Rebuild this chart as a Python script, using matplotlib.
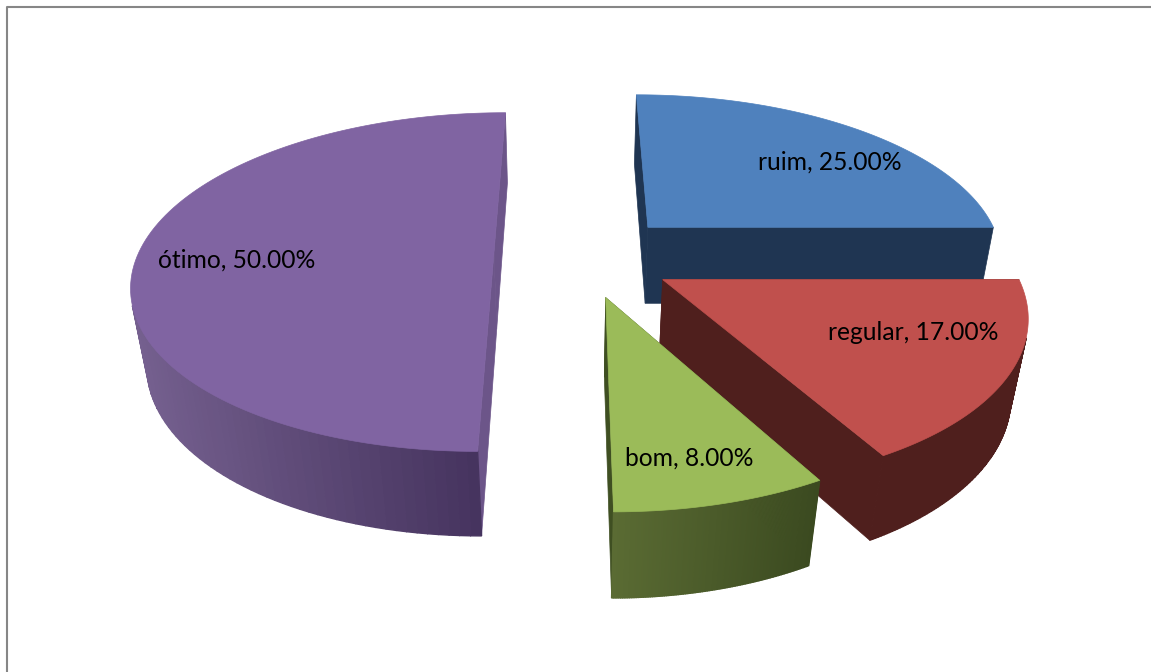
import numpy as np
import matplotlib
matplotlib.use("Agg")
import matplotlib.pyplot as plt

# dados do grafico
categories = ["ruim", "regular", "bom", "ótimo"]
values = [25.0, 17.0, 8.0, 50.0]
top_colors = ["#4F81BD", "#C0504D", "#9BBB59", "#8064A2"]
wall_light = ["#1F3552", "#4F1F1D", "#5A6B33", "#75608F"]
wall_dark = ["#1F3552", "#4F1F1D", "#3B4A20", "#46345F"]
face_colors = ["#1F3552", "#4F1F1D", "#3F4F22", "#6C5589"]

# deslocamento e raio de cada fatia no plano
offsets = [(80, 55), (90, -58), (34, -94), (-76, 0)]
radii = [355, 346, 345, 355]
label_pos = [(830, 162), (913, 333), (689, 458), (237, 260)]

# projecao em perspectiva
VX, VY = 570, 252
K = 0.0005
A = 0.462
DEPTH = 80
M = 0.037


def project(x, y, low):
    w = 1 + K * y + (M if low else 0)
    return VX + x / w, VY - (A * y - (DEPTH if low else 0)) / w


def area(pts):
    p = np.array(pts)
    return 0.5 * np.sum(p[:, 0] * np.roll(p[:, 1], -1) - np.roll(p[:, 0], -1) * p[:, 1])


fig = plt.figure(figsize=(11.51, 6.72), dpi=100)
ax = fig.add_axes([0, 0, 1, 1])
ax.set_xlim(0, 1151)
ax.set_ylim(672, 0)
ax.axis("off")
ax.plot([7, 7, 1151], [672, 7, 7], color="#868686", lw=1.5)

starts = np.cumsum([0] + values[:-1]) * 3.6

for i in range(len(values)):
    a0 = starts[i]
    a1 = a0 + values[i] * 3.6
    ox, oy = offsets[i]
    t = np.radians(np.linspace(a0, a1, 121))
    rim_x = ox + radii[i] * np.sin(t)
    rim_y = oy + radii[i] * np.cos(t)

    # faces retas
    for tx, ty in [(rim_x[0], rim_y[0]), (rim_x[-1], rim_y[-1])]:
        quad = [project(ox, oy, False), project(tx, ty, False),
                project(tx, ty, True), project(ox, oy, True)]
        ax.fill(*zip(*quad), color=face_colors[i], lw=0.5, zorder=i + 1)

    # parede externa com gradiente, so a parte da frente
    c0 = np.array(matplotlib.colors.to_rgb(wall_light[i]))
    c1 = np.array(matplotlib.colors.to_rgb(wall_dark[i]))
    quads = []
    for j in range(len(t) - 1):
        quad = [project(rim_x[j], rim_y[j], False), project(rim_x[j + 1], rim_y[j + 1], False),
                project(rim_x[j + 1], rim_y[j + 1], True), project(rim_x[j], rim_y[j], True)]
        if area(quad) < 0:
            quads.append(quad)
    if quads:
        xs = [q[0][0] for q in quads]
        x_min, x_max = min(xs), max(xs)
        for quad, x in zip(quads, xs):
            f = (x - x_min) / (x_max - x_min)
            c = c0 + (c1 - c0) * f
            ax.fill(*zip(*quad), color=c, lw=1.0, zorder=i + 1)

    # topo
    top = [project(ox, oy, False)] + [project(x, y, False) for x, y in zip(rim_x, rim_y)]
    ax.fill(*zip(*top), color=top_colors[i], lw=0.5, zorder=i + 1.5)

    ax.text(label_pos[i][0], label_pos[i][1], "%s, %.2f%%" % (categories[i], values[i]),
            family="Lato", fontsize=17.7, color="black", ha="center", va="center", zorder=10)

fig.savefig("out.png", dpi=100)
